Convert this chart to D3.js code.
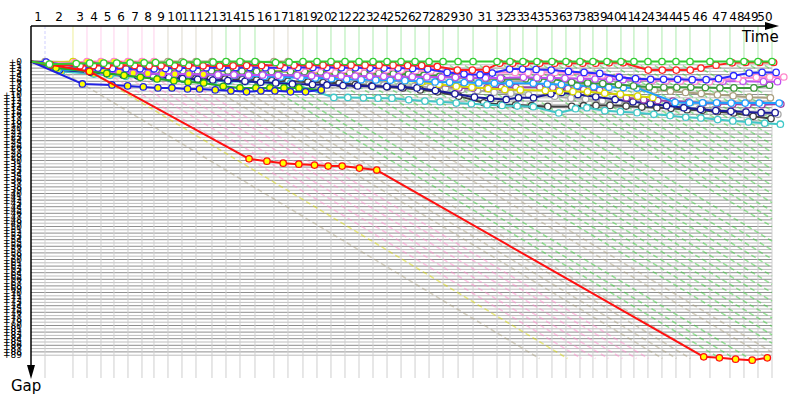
<!DOCTYPE html>
<html>
<head>
<meta charset="utf-8">
<title>index</title>
<script src="https://d3js.org/d3.v7.min.js"></script>
<style>
  body { margin:0; background:#fff; }
  svg { display:block; font-family:"DejaVu Sans", sans-serif; }
</style>
</head>
<body>
<script>
// leader lap times (same unit as the gap axis), laps 1..50
var lapTimes = [2.55,5.09,2.55,2.55,2.36,2.55,2.55,2.18,2.55,2.55,
                2.55,2.91,2.55,2.55,2.73,3.45,2.55,2.73,2.55,2.55,
                2.55,2.55,2.55,2.55,2.55,2.55,2.55,2.55,2.73,2.73,
                4.36,2.36,2.36,2.55,2.73,2.55,2.55,2.36,2.55,2.55,
                2.36,2.55,2.55,2.55,2.55,3.64,3.64,2.55,2.55,2.55];
var lapLabels = d3.range(1, 51).map(String);
var gapTicks = d3.range(0, 90);

// gap to leader after each completed lap
var gapLime = [0.8,0.6,0.5,0.5,0.5,0.4,0.4,0.3,0.3,0.3,0.2,0.2,0,0,0,0.3,0.2,0,0,0,
               0,0,0,0,0,0,0,0,0,0, 0,0,0,0,0,0,0,0,0,0, 0,0,0,0,0,0,0,0,0,0];
var gapKhaki = [0,0.2,0.3,0.3,0.2,0.2,0.2,0.1,0,0,0,0,0.2,0.3,0.2,0,0,
                2.4,2.6,2.9,3.1,3.2,3.5,3.8,4.1,4.5,4.8,5.0,5.3,5.4,5.6,5.9,6.3,6.6,7.0,
                7.5,7.9,8.3,8.6,9.0,9.4,9.7,10.1,10.4,10.8,11.0];
var gapPink = [0.4,0.3,0,0,0,0,0,0, 0.6,0.8,1.0,1.2,1.4,1.6,2.0,2.1,2.2,2.3,2.4,2.4,
               2.5,2.5,2.5,2.6,2.7,2.9,3.1,3.3,3.4,3.4, 3.3,3.3,3.3,3.3,3.4,3.6,4.1,4.6,5.3,5.7,
               5.8,5.9,6.0,6.1,5.6,5.1,4.8,4.7,4.7];
var gapYellow = [0.3,0,0.5,0.7,0.8,1.1,1.2,1.5,1.6,1.9, 2.1,2.2,2.5,2.6,2.9,3.0,3.3,3.5,3.9,4.2,
                 4.7,5.1,5.8,6.3,6.9,7.5,7.8,8.2,8.5,8.6, 8.8,9.0,9.1,9.2,9.6,9.9,10.5,10.9];
var gapBlue = [0.2,1.8,2.0,2.1,2.2,2.2,2.2,2.1,2.0,2.0, 1.9,1.9,1.8,1.8,1.9,1.9,1.8,1.8,1.8,1.9,
               1.9,2.0,2.0,2.0,2.1,2.3,3.3,3.8,4.0,3.5, 2.3,2.3,2.4,2.6,3.0,3.3,3.6,4.8,5.2,5.4,
               5.4,5.4,5.5,5.5,5.2,4.3,3.5,3.3,3.3];
var gapRed = [1.0,1.3,1.2,1.2,1.1,1.2,1.3,1.3,1.2,1.2, 1.3,1.4,1.3,1.2,1.2,1.1,1.1,1.1,1.1,1.1,
              1.1,1.1,1.1,1.1,1.2,1.2,1.5,2.6,2.6,2.4, 0.5,0.5,0.5,0.5,0.5,0.5,0.5,0.5,0.4,0.4,
              2.6,2.6,2.6,2.6,2.0,1.1,0.4,0.3,0.3,0.3];
var gapViolet = [2.0,2.6,3.0,3.3,3.5,3.6,3.7,3.8,3.8,3.9, 4.0,4.0,4.1,4.1,4.2,4.2,4.3,4.3,4.4,4.4,
                 4.5,4.5,4.6,4.6,4.7,4.8,4.8,4.9,5.0,5.0, 4.8,4.9,5.0,5.1,5.2,5.3,5.4,5.5,5.6,5.7,
                 5.8,5.8,5.9,5.9,6.0,6.0,6.1,6.1];
var gapDkGreen = [1.8,2.2,2.4,2.5,2.5,2.6,2.6,2.7,2.7,2.8, 2.8,2.9,2.9,3.0,3.0,3.0,3.0,3.2,3.3,3.4,
                  3.5,3.6,3.7,3.9,4.2,4.5,4.8,5.0,5.1,5.2, 5.2,5.2,5.3,6.3,6.5,6.7,7.0,7.4,7.7,7.8,
                  7.8,7.8,7.9,8.0,8.0,8.0,7.2];
var gapSky = [2.4,2.8,3.0,3.2,3.4,3.5,3.6,3.7,3.8,3.9, 4.0,4.1,4.3,4.5,4.7,4.9,5.0,5.2,5.4,5.5,
              5.6,5.7,5.8,6.0,6.2,6.3,6.4,6.5,6.6,6.6, 6.6,6.8,7.0,7.3,7.6,7.8,7.9,8.0,12.4,12.5,
              12.5,12.5,12.6,12.6,12.6,12.6];
var gapPurple = [2.2,2.8,3.1,3.3,3.5,3.6,3.7,3.8,3.9,4.0, 4.1,4.2,4.3,4.4,4.5,4.5,4.6,4.6,4.7,4.7,
                 4.8,4.9,5.0,5.5,7.0,8.0,8.0,8.0,7.9,7.8, 7.8,7.8,8.2,8.5,8.7,11.0,11.6,11.8,12.0,12.3,
                 12.6,12.7,12.9,13.1,13.1,12.9];
var gapNavy = [2.6,3.2,3.6,4.0,4.3,4.6,4.9,5.2,5.4,5.6, 5.8,6.0,6.3,6.5,6.8,7.0,7.1,7.3,7.4,7.5,
               7.6,7.7,8.0,8.8,9.8,10.8,11.2,11.5,11.0,11.0, 9.8,9.4,10.0,10.7,11.5,12.2,12.8,13.4,14.0,14.5,
               14.9,15.1,15.3,15.5,15.5];
var gapDkGray = [2.8,3.4,3.8,4.1,4.4,4.6,4.8,5.0,5.1,5.2, 5.3,5.5,5.6,5.8,6.0,6.2,6.4,6.6,7.0,7.4,
                 7.7,8.0,8.6,9.2,10.5,12.5,13.0,13.2,13.4,13.6, 13.6,13.4,13.3,13.3,13.5,13.8,14.0,14.2,14.6,14.8,
                 15.2,15.6,16.6,17.3];
var gapGray = [2.5,3.0,3.4,3.6,3.9,4.1,4.4,4.5,4.8,4.9, 5.1,5.4,5.5,5.8,5.9,6.2,6.3,6.6,6.7,7.0,
               7.1,7.4,7.5,7.9,8.1,8.5,8.8,9.3,9.6,10.1, 10.5,11.1,11.4,11.9,12.2,12.7,13.0,13.5,13.8,14.3,
               14.6,15.0,15.2,15.7,16.0];
var gapCyan = [3.0,3.8,4.2,4.5,4.8,5.0,5.2,5.4,5.6,5.8, 6.0,6.1,6.3,6.5,6.5,10.9,10.9,11.0,11.1,11.1,
               11.6,12.0,12.2,12.6,12.8,13.1,13.3,13.5,13.7,15.6, 14.3,14.0,14.9,15.2,15.5,16.0,16.4,16.9,17.1,17.6,
               18.0,18.3,18.7,19.0];
var gapRoyal = [6.8,7.1,7.4,7.7,8.0,8.0,8.3,8.3,8.6,8.9,9.2,8.9,8.9,9.2,9.2,8.6];
var gapGreenY = [2.0,3.0,3.6,4.2,4.8,5.3,5.8,6.2,6.5,7.5,8.0,8.0,8.0,8.0,8.0,8.6];
var gapRedOut = [1.0,3.0,29.5,30.2,30.8,31.1,31.4,31.7,31.7,32.3,32.9,89.5,89.8,90.2,90.5,89.8];

// laps run on the first set of tyres (yellow markers)
var series = [
  {gaps: gapGray,    color: "#a8a8a8", stint: 0},
  {gaps: gapDkGray,  color: "#404040", stint: 0},
  {gaps: gapCyan,    color: "#40c8c8", stint: 8},
  {gaps: gapNavy,    color: "#1a1a9a", stint: 0},
  {gaps: gapPurple,  color: "#9a40a8", stint: 10},
  {gaps: gapKhaki,   color: "#aaa080", stint: 0},
  {gaps: gapYellow,  color: "#d8d800", stint: 0},
  {gaps: gapSky,     color: "#1ea0ff", stint: 12},
  {gaps: gapDkGreen, color: "#3a9a3a", stint: 0},
  {gaps: gapViolet,  color: "#c050f0", stint: 10},
  {gaps: gapPink,    color: "#ff88cc", stint: 8},
  {gaps: gapBlue,    color: "#2a2aff", stint: 0},
  {gaps: gapRed,     color: "#ff2020", stint: 0},
  {gaps: gapGreenY,  color: "#22aa22", stint: 16},
  {gaps: gapRoyal,   color: "#2020e0", stint: 16},
  {gaps: gapRedOut,  color: "#ff1010", stint: 16},
  {gaps: gapLime,    color: "#33cc33", stint: 0}
];

var W = 800, H = 400;
var cum = [0];
lapTimes.forEach(function(t, i) { cum.push(cum[i] + t); });
var total = cum[cum.length - 1];

var x = d3.scaleLinear().domain([0, total]).range([31, 772]);
var y = d3.scaleLinear().domain([0, 90]).range([61.5, 358.5]);

var svg = d3.select("body").append("svg").attr("width", W).attr("height", H);

// leader colour for each lap
var leaderColor = lapTimes.map(function(t, i) {
  var best = null;
  series.forEach(function(s) {
    if (s.gaps.length > i && (best === null || s.gaps[i] < best.gaps[i])) best = s;
  });
  return best.color;
});

// horizontal gap grid
svg.append("g").selectAll("line").data(gapTicks).enter().append("line")
  .attr("x1", 31).attr("x2", 772)
  .attr("y1", function(d) { return y(d); }).attr("y2", function(d) { return y(d); })
  .attr("stroke", function(d) { return d % 2 ? "#bdbdbd" : "#8e8e8e"; })
  .attr("stroke-width", 1);

// vertical lap lines
var laps = d3.range(1, 51);
svg.append("g").selectAll("line").data(laps).enter().append("line")
  .attr("x1", function(n) { return x(cum[n]); }).attr("x2", function(n) { return x(cum[n]); })
  .attr("y1", y(0)).attr("y2", 378)
  .attr("stroke", "#cfcfcf");
svg.append("g").selectAll("line").data(laps).enter().append("line")
  .attr("x1", function(n) { return x(cum[n]); }).attr("x2", function(n) { return x(cum[n]); })
  .attr("y1", 26).attr("y2", y(0))
  .attr("stroke", function(n) { return n === 1 ? "#8888ff" : leaderColor[n - 1]; })
  .attr("stroke-opacity", 0.4)
  .attr("stroke-dasharray", function(n) { return n === 1 ? "3,2" : null; });

// lap diagonals (constant lap count)
svg.append("g").selectAll("line").data(laps).enter().append("line")
  .attr("x1", function(n) { return x(cum[n]); })
  .attr("y1", y(0))
  .attr("x2", function(n) { return x(cum[n] + Math.min(90, total - cum[n])); })
  .attr("y2", function(n) { return y(Math.min(90, total - cum[n])); })
  .attr("stroke", function(n) { return leaderColor[n - 1]; })
  .attr("stroke-opacity", 0.5)
  .attr("stroke-width", 1.5)
  .attr("stroke-dasharray", "5,3");

// series
function pts(s) {
  var p = [[x(0), y(0)]];
  s.gaps.forEach(function(g, i) { p.push([x(cum[i + 1] + g), y(g)]); });
  return p;
}
var line = d3.line();
series.forEach(function(s) {
  var g = svg.append("g");
  var p = pts(s);
  g.append("path").attr("d", line(p))
    .attr("fill", "none").attr("stroke", s.color).attr("stroke-width", 2)
    .attr("stroke-linejoin", "round");
  g.selectAll("circle").data(p.slice(1)).enter().append("circle")
    .attr("cx", function(d) { return d[0]; }).attr("cy", function(d) { return d[1]; })
    .attr("r", 3.2)
    .attr("fill", function(d, i) { return i < s.stint ? "#ffff00" : "#fff"; })
    .attr("stroke", s.color).attr("stroke-width", 1.3);
});

// gap labels
svg.append("g").selectAll("text").data(gapTicks).enter().append("text")
  .attr("x", 22).attr("y", function(d) { return y(d) + 3; })
  .attr("text-anchor", "end").attr("font-size", 9)
  .text(function(d) { return "+" + d; });

// lap labels
svg.append("g").selectAll("text").data(lapLabels).enter().append("text")
  .attr("x", function(d, i) { return x((cum[i] + cum[i + 1]) / 2); })
  .attr("y", 21).attr("text-anchor", "middle").attr("font-size", 12)
  .text(function(d) { return d; });

// axes with arrows
svg.append("line").attr("x1", 31).attr("x2", 768).attr("y1", 26).attr("y2", 26)
  .attr("stroke", "#000").attr("stroke-width", 1.5);
svg.append("path").attr("d", "M765,22L779,26L765,30Z").attr("fill", "#000");
svg.append("line").attr("x1", 31).attr("x2", 31).attr("y1", 26).attr("y2", 368)
  .attr("stroke", "#000").attr("stroke-width", 1.5);
svg.append("path").attr("d", "M27,365L31,379L35,365Z").attr("fill", "#000");
svg.append("text").attr("x", 742).attr("y", 42).attr("font-size", 15).text("Time");
svg.append("text").attr("x", 11).attr("y", 391).attr("font-size", 15).text("Gap");
</script>
</body>
</html>
